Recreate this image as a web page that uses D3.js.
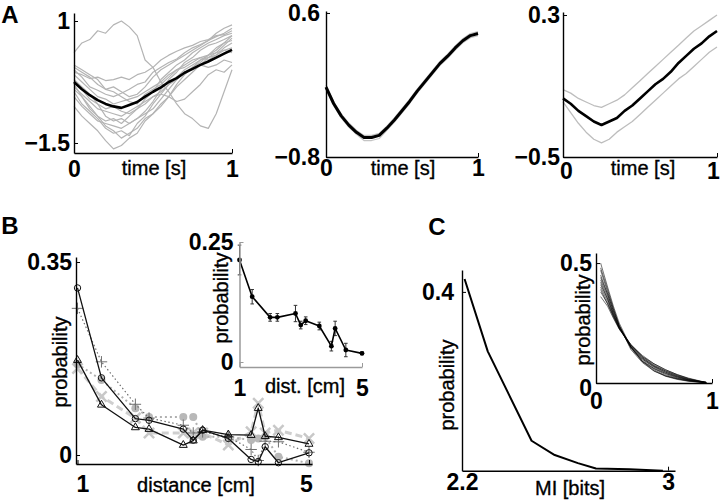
<!DOCTYPE html>
<html><head><meta charset="utf-8">
<script src="https://cdn.jsdelivr.net/npm/d3@7"></script>
<style>
body{margin:0;background:#fff}
svg{display:block}
text{font-family:"Liberation Sans",Arial,sans-serif;fill:#000}
</style>
</head><body>
<svg id="fig" width="720" height="503"></svg>
<script>
// ---------------- DATA ----------------
const timeGrid = [0,0.05,0.1,0.15,0.2,0.25,0.3,0.35,0.4,0.45,0.5,0.55,0.6,0.65,0.7,0.75,0.8,0.85,0.9,0.95,1];

// Panel A1: single-trial traces (gray) and their mean (black)
const a1Traces = [
  [0.35,0.55,0.62,0.80,0.75,0.92,1.00,0.88,0.70,0.20,0.05,-0.25,-0.45,-0.70,-0.90,-1.00,-1.15,-1.20,-0.90,-0.45,0.00],
  [-0.75,-0.95,-1.10,-1.25,-1.45,-1.62,-1.55,-1.40,-1.30,-1.05,-0.90,-0.70,-0.55,-0.30,-0.10,0.05,0.20,0.30,0.45,0.55,0.70],
  [-0.05,-0.10,-0.18,-0.15,-0.22,-0.20,-0.15,-0.20,-0.10,-0.05,0.05,0.20,0.30,0.38,0.45,0.50,0.58,0.62,0.70,0.72,0.80],
  [0.00,-0.15,-0.35,-0.42,-0.50,-0.55,-0.48,-0.40,-0.30,-0.25,-0.05,0.05,0.15,0.22,0.35,0.45,0.52,0.60,0.68,0.75,0.85],
  [-0.30,-0.55,-0.75,-0.95,-1.05,-1.00,-1.10,-0.95,-0.80,-0.60,-0.45,-0.20,-0.05,0.10,0.20,0.35,0.45,0.55,0.62,0.70,0.75],
  [-0.45,-0.70,-0.85,-1.00,-1.20,-1.30,-1.25,-1.35,-1.10,-0.95,-0.70,-0.50,-0.30,-0.15,0.00,0.10,0.20,0.25,0.30,0.40,0.45],
  [-0.20,-0.35,-0.50,-0.70,-0.80,-0.75,-0.85,-0.90,-0.80,-0.70,-0.55,-0.45,-0.30,-0.20,-0.05,0.05,0.15,0.30,0.40,0.55,0.60],
  [-0.10,-0.25,-0.40,-0.55,-0.60,-0.70,-0.65,-0.60,-0.55,-0.45,-0.35,-0.25,-0.10,0.00,0.05,0.15,0.25,0.30,0.35,0.40,0.35],
  [-0.35,-0.50,-0.65,-0.80,-0.85,-0.90,-0.95,-0.85,-0.75,-0.65,-0.55,-0.50,-0.55,-0.65,-0.60,-0.45,-0.30,-0.10,0.00,-0.05,0.10],
  [-0.55,-0.75,-0.90,-1.05,-1.10,-1.15,-1.20,-1.10,-1.00,-0.85,-0.65,-0.40,-0.20,-0.05,0.15,0.25,0.40,0.50,0.55,0.62,0.70],
  [0.10,0.00,-0.10,-0.20,-0.40,-0.45,-0.55,-0.65,-0.70,-0.50,-0.40,-0.30,-0.15,0.00,0.10,0.20,0.25,0.20,0.30,0.45,0.55],
  [-0.25,-0.40,-0.60,-0.70,-0.95,-1.05,-1.00,-1.10,-1.00,-0.90,-0.80,-0.60,-0.40,-0.20,-0.05,0.00,0.10,0.05,0.10,0.20,0.15],
  [-0.40,-0.55,-0.80,-0.95,-1.15,-1.25,-1.40,-1.30,-1.20,-1.00,-0.90,-0.75,-0.55,-0.35,-0.20,-0.05,0.10,0.25,0.35,0.50,0.65],
  [0.05,-0.05,-0.15,-0.30,-0.40,-0.35,-0.45,-0.55,-0.50,-0.35,-0.15,0.00,0.10,0.20,0.30,0.40,0.50,0.60,0.75,0.85,0.92]
];
const a1Mean = [-0.25,-0.40,-0.52,-0.62,-0.70,-0.75,-0.78,-0.72,-0.66,-0.55,-0.45,-0.36,-0.25,-0.17,-0.06,0.02,0.10,0.17,0.25,0.33,0.41];

// Panel A2: mean with narrow band
const a2Mean  = [-0.12,-0.28,-0.40,-0.49,-0.56,-0.61,-0.61,-0.59,-0.52,-0.44,-0.35,-0.26,-0.16,-0.07,0.02,0.11,0.18,0.26,0.33,0.38,0.40];
const a2Upper = [-0.10,-0.26,-0.38,-0.47,-0.54,-0.59,-0.59,-0.57,-0.50,-0.42,-0.33,-0.24,-0.14,-0.05,0.04,0.13,0.20,0.28,0.35,0.40,0.42];
const a2Lower = [-0.14,-0.30,-0.42,-0.51,-0.58,-0.64,-0.64,-0.62,-0.54,-0.46,-0.37,-0.28,-0.18,-0.09,0.00,0.09,0.16,0.24,0.31,0.36,0.38];

// Panel A3: mean with wider band
const a3Mean  = [-0.17,-0.20,-0.24,-0.27,-0.30,-0.32,-0.30,-0.28,-0.24,-0.21,-0.17,-0.13,-0.09,-0.06,-0.02,0.03,0.07,0.11,0.14,0.18,0.21];
const a3Upper = [-0.12,-0.14,-0.17,-0.19,-0.21,-0.22,-0.20,-0.18,-0.15,-0.11,-0.07,-0.03,0.01,0.05,0.09,0.13,0.17,0.21,0.24,0.27,0.30];
const a3Lower = [-0.19,-0.25,-0.31,-0.36,-0.40,-0.42,-0.40,-0.36,-0.33,-0.30,-0.26,-0.22,-0.18,-0.14,-0.10,-0.06,-0.03,0.01,0.05,0.09,0.12];

// Panel B main: probability vs distance, five conditions
const distances = [1,1.414,2,2.236,2.828,3,3.162,3.606,4,4.123,4.243,4.472,5];
const bCircle   = [0.303,0.140,0.066,0.063,0.047,0.027,0.045,0.030,-0.008,-0.012,0.015,-0.014,0.004];
const bTriangle = [0.172,0.091,0.050,0.047,0.018,0.026,0.045,0.037,0.036,0.085,0.034,0.032,0.020];
const bPlus     = [0.266,0.169,0.092,0.067,0.054,0.040,0.042,0.033,0.010,-0.010,0.025,0.024,0.005];
const bDot      = [0.165,0.136,0.085,0.069,0.069,0.069,0.033,0.033,0.027,0.030,0.033,-0.003,-0.015];
const bCross    = [0.157,0.106,0.067,0.040,0.040,0.040,0.040,0.018,0.042,0.094,0.040,0.045,0.030];

// Panel B inset: mean with error bars
const insetDist = [1,1.414,2,2.236,2.828,3,3.162,3.606,4,4.123,4.472,5];
const insetProb = [0.2125,0.136,0.093,0.093,0.101,0.077,0.086,0.075,0.033,0.070,0.025,0.018];
const insetErr  = [0.031,0.015,0.008,0.008,0.017,0.008,0.008,0.008,0.010,0.015,0.014,0.003];

// Panel C main: distribution of MI
const miBits = [2.21,2.30,2.47,2.56,2.65,2.72,2.85,2.98];
const miProb = [0.429,0.267,0.067,0.035,0.017,0.005,0.003,0.0];

// Panel C inset: many decaying distributions
const cInsetX = [0.04,0.1,0.15,0.2,0.3,0.4,0.5,0.6,0.7,0.8,0.9,0.95];
const cInsetCurves = [
  [0.50,0.40,0.32,0.25,0.15,0.09,0.05,0.028,0.015,0.007,0.003,0.0],
  [0.47,0.38,0.31,0.24,0.15,0.09,0.055,0.03,0.017,0.008,0.003,0.001],
  [0.45,0.37,0.30,0.24,0.15,0.095,0.06,0.035,0.02,0.01,0.004,0.001],
  [0.43,0.36,0.29,0.235,0.15,0.10,0.065,0.04,0.022,0.011,0.005,0.002],
  [0.41,0.35,0.29,0.23,0.155,0.105,0.07,0.045,0.026,0.013,0.005,0.002],
  [0.40,0.34,0.28,0.23,0.16,0.11,0.075,0.05,0.03,0.015,0.006,0.002],
  [0.38,0.33,0.28,0.23,0.16,0.11,0.08,0.055,0.035,0.018,0.007,0.003],
  [0.36,0.32,0.27,0.225,0.16,0.115,0.08,0.055,0.035,0.02,0.008,0.003],
  [0.48,0.39,0.31,0.24,0.14,0.085,0.05,0.03,0.018,0.009,0.004,0.001],
  [0.44,0.37,0.30,0.235,0.145,0.09,0.06,0.04,0.025,0.012,0.005,0.002],
  [0.42,0.35,0.285,0.23,0.15,0.10,0.068,0.045,0.028,0.014,0.006,0.002],
  [0.39,0.33,0.275,0.225,0.155,0.105,0.072,0.05,0.032,0.017,0.007,0.003]
];

// Tick labels
const a1YTicks = [-1.5, 1], a2YTicks = [-0.8, 0.6], a3YTicks = [-0.5, 0.3];
const timeTicks = [0, 1];
const bYTicks = [0, 0.35], bXTicks = [1, 5];
const bInYTicks = [0, 0.25], bInXTicks = [1, 5];
const cYTicks = [0.4], cXTicks = [2.2, 3];
const cInYTicks = [0, 0.5], cInXTicks = [0, 1];

// ---------------- DRAWING ----------------
const svg = d3.select("#fig");
const TICKFONT = 23;

function axes(x, y, o) {
  const g = svg.append("g");
  const ax = d3.axisBottom(x).tickValues(o.xt).tickFormat(d3.format(o.xf || "")).tickSizeInner(-4).tickSizeOuter(0).tickPadding(o.xp);
  const ay = d3.axisLeft(y).tickValues(o.yt).tickFormat(d3.format(o.yf || "")).tickSizeInner(-4).tickSizeOuter(0).tickPadding(o.yp);
  const gx = g.append("g").attr("transform", `translate(0,${y.range()[0]})`).call(ax);
  const gy = g.append("g").attr("transform", `translate(${x.range()[0]},0)`).call(ay);
  [gx, gy].forEach(s => {
    s.select(".domain").attr("stroke", o.color || "#000").attr("stroke-width", o.sw || 1.4);
    s.selectAll(".tick line").attr("stroke", o.color || "#000").attr("stroke-width", 1);
    s.selectAll(".tick text").attr("font-size", TICKFONT).attr("font-weight", "bold")
      .attr("font-family", '"Liberation Sans",Arial,sans-serif').attr("fill", "#000");
  });
  if (o.xdx) gx.selectAll(".tick text").attr("dx", (d, i) => o.xdx[i]);
  if (o.ydy) gy.selectAll(".tick text").attr("dy", (d, i) => o.ydy[i]);
  return g;
}
function label(txt, x, y, o = {}) {
  const t = svg.append("text").attr("x", x).attr("y", y).text(txt)
    .attr("font-size", o.size || 20).attr("font-weight", o.weight || "normal")
    .attr("text-anchor", o.anchor || "middle").attr("dominant-baseline", "central")
    .attr("stroke", "#000").attr("stroke-width", o.weight ? 0 : 0.35);
  if (o.rotate) t.attr("transform", `rotate(-90,${x},${y})`);
  return t;
}
function drawLine(xs, ys, x, y, stroke, w, dash) {
  const line = d3.line().x((d, i) => x(xs[i])).y(d => y(d));
  const p = svg.append("path").datum(ys).attr("d", line).attr("fill", "none")
    .attr("stroke", stroke).attr("stroke-width", w).attr("stroke-linejoin", "round");
  if (dash) p.attr("stroke-dasharray", dash);
  return p;
}

// ---- Panel A1
{
  const x = d3.scaleLinear().domain([0, 1]).range([74, 232]);
  const y = d3.scaleLinear().domain([-1.705, 1.164]).range([153, 13]);
  a1Traces.forEach(tr => drawLine(timeGrid, tr, x, y, "#b4b4b4", 1.2));
  drawLine(timeGrid, a1Mean, x, y, "#000", 2.6);
  axes(x, y, {xt: timeTicks, yt: a1YTicks, xp: 8, yp: 4});
  label("time [s]", 154, 168);
}
// ---- Panel A2
{
  const x = d3.scaleLinear().domain([0, 1]).range([326, 478]);
  const y = d3.scaleLinear().domain([-0.8, 0.619]).range([157, 11]);
  drawLine(timeGrid, a2Upper, x, y, "#c4c4c4", 1.2);
  drawLine(timeGrid, a2Lower, x, y, "#c4c4c4", 1.2);
  drawLine(timeGrid, a2Mean, x, y, "#000", 3);
  axes(x, y, {xt: timeTicks, yt: a2YTicks, xp: 3, yp: 6});
  label("time [s]", 403, 168);
}
// ---- Panel A3
{
  const x = d3.scaleLinear().domain([0, 1]).range([563, 717]);
  const y = d3.scaleLinear().domain([-0.5, 0.317]).range([157, 12]);
  drawLine(timeGrid, a3Upper, x, y, "#bdbdbd", 1.3);
  drawLine(timeGrid, a3Lower, x, y, "#bdbdbd", 1.3);
  drawLine(timeGrid, a3Mean, x, y, "#000", 2.6);
  axes(x, y, {xt: timeTicks, yt: a3YTicks, xp: 6, yp: 3, xdx: [3, -4]});
  label("time [s]", 643, 168);
}
// ---- Panel B main
{
  const x = d3.scaleLinear().domain([0.974, 5.052]).range([76, 312]);
  const y = d3.scaleLinear().domain([-0.0163, 0.3591]).range([464, 257]);
  const sym = (type, size) => d3.symbol().type(type).size(size)();
  drawLine(distances, bCross, x, y, "#cfcfcf", 3, "7,4");
  svg.append("g").selectAll("path").data(bCross).join("path")
    .attr("transform", (d, i) => `translate(${x(distances[i])},${y(d)})`)
    .attr("d", sym(d3.symbolTimes, 70)).attr("stroke", "#c8c8c8").attr("stroke-width", 2.5).attr("fill", "none");
  drawLine(distances, bDot, x, y, "#b0b0b0", 2, "2,3");
  svg.append("g").selectAll("circle").data(bDot).join("circle")
    .attr("cx", (d, i) => x(distances[i])).attr("cy", d => y(d)).attr("r", 4).attr("fill", "#b8b8b8");
  drawLine(distances, bPlus, x, y, "#6e6e6e", 1.2, "1.5,2.5");
  svg.append("g").selectAll("path").data(bPlus).join("path")
    .attr("transform", (d, i) => `translate(${x(distances[i])},${y(d)})`)
    .attr("d", sym(d3.symbolPlus, 45)).attr("stroke", "#707070").attr("stroke-width", 1).attr("fill", "none");
  drawLine(distances, bTriangle, x, y, "#111", 1.3);
  svg.append("g").selectAll("path").data(bTriangle).join("path")
    .attr("transform", (d, i) => `translate(${x(distances[i])},${y(d)})`)
    .attr("d", sym(d3.symbolTriangle2, 45)).attr("stroke", "#111").attr("stroke-width", 1).attr("fill", "none");
  drawLine(distances, bCircle, x, y, "#111", 1.3);
  svg.append("g").selectAll("circle").data(bCircle).join("circle")
    .attr("cx", (d, i) => x(distances[i])).attr("cy", d => y(d)).attr("r", 3.2)
    .attr("fill", "none").attr("stroke", "#111").attr("stroke-width", 1);
  axes(x, y, {xt: bXTicks, yt: bYTicks, xp: 12, yp: 4, xdx: [5, -3]});
  label("distance [cm]", 196, 485);
  label("probability", 60, 362, {rotate: true});
}
// ---- Panel B inset
{
  const x = d3.scaleLinear().domain([1, 5]).range([239.5, 362]);
  const y = d3.scaleLinear().domain([-0.0104, 0.25]).range([367, 242]);
  const g = svg.append("g");
  g.selectAll("line.eb").data(insetProb).join("line")
    .attr("x1", (d, i) => x(insetDist[i])).attr("x2", (d, i) => x(insetDist[i]))
    .attr("y1", (d, i) => y(d - insetErr[i])).attr("y2", (d, i) => y(d + insetErr[i]))
    .attr("stroke", "#333").attr("stroke-width", 1);
  [-1, 1].forEach(s => {
    g.selectAll(null).data(insetProb).join("line")
      .attr("x1", (d, i) => x(insetDist[i]) - 1.8).attr("x2", (d, i) => x(insetDist[i]) + 1.8)
      .attr("y1", (d, i) => y(d + s * insetErr[i])).attr("y2", (d, i) => y(d + s * insetErr[i]))
      .attr("stroke", "#333").attr("stroke-width", 1);
  });
  drawLine(insetDist, insetProb, x, y, "#000", 1.6);
  svg.append("g").selectAll("circle").data(insetProb).join("circle")
    .attr("cx", (d, i) => x(insetDist[i])).attr("cy", d => y(d)).attr("r", 2.4).attr("fill", "#000");
  axes(x, y, {xt: bInXTicks, yt: bInYTicks, xp: 13, yp: 6, color: "#9a9a9a", sw: 1.5});
  label("dist. [cm]", 305, 386);
  label("probability", 221, 298, {rotate: true});
}
// ---- Panel C main
{
  const x = d3.scaleLinear().domain([2.2, 3.027]).range([462, 675]);
  const y = d3.scaleLinear().domain([0, 0.449]).range([470.7, 270]);
  drawLine(miBits, miProb, x, y, "#000", 2);
  axes(x, y, {xt: cXTicks, yt: cYTicks, xp: 3, yp: 8});
  label("MI [bits]", 570, 488);
  label("probability", 447, 385, {rotate: true});
}
// ---- Panel C inset
{
  const x = d3.scaleLinear().domain([0, 1]).range([596, 712]);
  const y = d3.scaleLinear().domain([0, 0.542]).range([383, 253]);
  cInsetCurves.forEach(c => drawLine(cInsetX, c, x, y, "rgba(0,0,0,0.55)", 1));
  axes(x, y, {xt: cInXTicks, yt: cInYTicks, xp: 10, yp: 4, ydy: ["0.55em", "0.32em"]});
  label("probability", 583, 320, {rotate: true});
}
// ---- Panel letters
label("A", 10, 14, {size: 24, weight: "bold"});
label("B", 10, 225, {size: 24, weight: "bold"});
label("C", 437, 226, {size: 24, weight: "bold"});
</script>
</body></html>
